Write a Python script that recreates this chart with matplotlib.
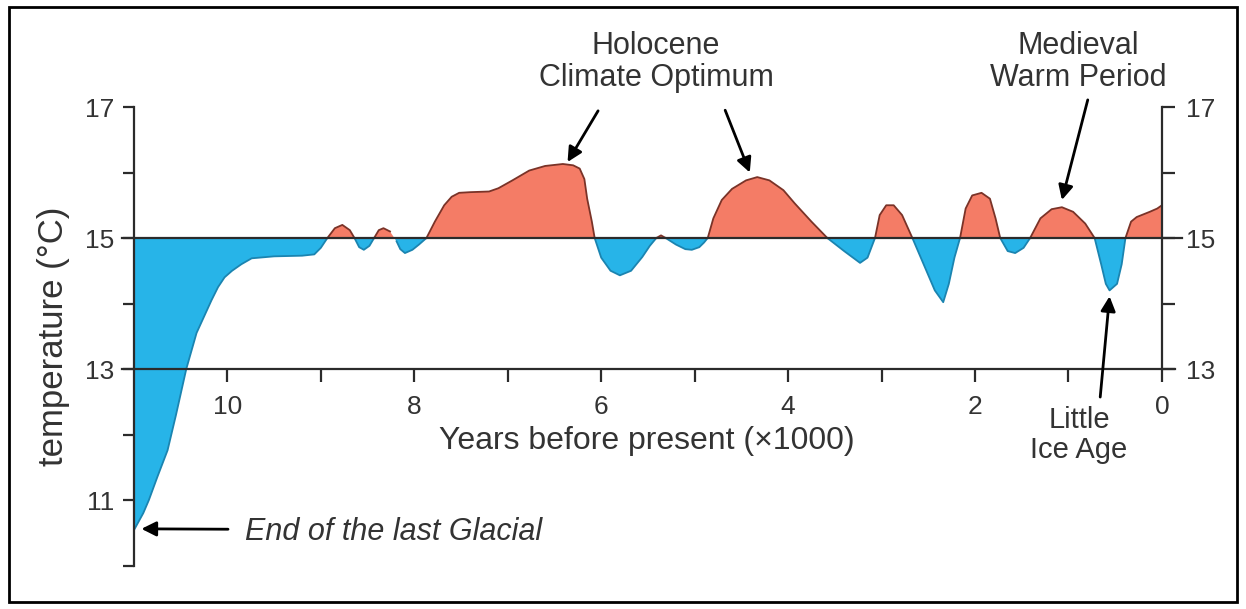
import matplotlib
matplotlib.use("Agg")
import matplotlib.pyplot as plt
import numpy as np
from matplotlib.patches import Rectangle

plt.rcParams['font.family'] = ['Liberation Sans', 'DejaVu Sans']

# years before present (x1000) and temperature (deg C)
years = [11.0, 10.9, 10.84, 10.75, 10.64, 10.55, 10.44, 10.33, 10.25, 10.17,
         10.1, 10.03, 9.95, 9.85, 9.74, 9.5, 9.2, 9.07, 9.0, 8.93,
         8.85, 8.77, 8.69, 8.64, 8.59, 8.54, 8.48, 8.43, 8.38, 8.33,
         8.26, 8.19, 8.15, 8.1, 8.02, 7.95, 7.87, 7.78, 7.68, 7.6, 7.52,
         7.4, 7.2, 7.1, 6.95, 6.77, 6.6, 6.41, 6.3, 6.23, 6.18, 6.15,
         6.1, 6.07, 6.0, 5.9, 5.8, 5.68, 5.56, 5.48, 5.41, 5.36,
         5.31, 5.2, 5.1, 5.03, 4.95, 4.9, 4.86, 4.8, 4.71, 4.6,
         4.45, 4.33, 4.2, 4.05, 3.93, 3.75, 3.58, 3.4, 3.23, 3.15,
         3.07, 3.02, 2.95, 2.87, 2.78, 2.67, 2.55, 2.43, 2.34, 2.28,
         2.22, 2.16, 2.1, 2.03, 1.93, 1.84, 1.78, 1.73, 1.65, 1.57,
         1.48, 1.41, 1.3, 1.18, 1.07, 0.95, 0.82, 0.72, 0.65, 0.6,
         0.56, 0.48, 0.43, 0.39, 0.33, 0.27, 0.2, 0.13, 0.05, 0.0]
temps = [10.54, 10.8, 11.0, 11.35, 11.76, 12.3, 13.0, 13.55, 13.8, 14.05,
         14.25, 14.4, 14.5, 14.6, 14.69, 14.72, 14.73, 14.75, 14.85, 15.0,
         15.15, 15.2, 15.12, 15.0, 14.86, 14.82, 14.88, 15.0, 15.12, 15.15,
         15.1, 14.95, 14.83, 14.77, 14.82, 14.9, 15.0, 15.25, 15.5, 15.63, 15.69,
         15.7, 15.71, 15.76, 15.88, 16.03, 16.1, 16.13, 16.11, 16.06, 15.9, 15.6,
         15.25, 15.0, 14.7, 14.5, 14.43, 14.5, 14.71, 14.88, 15.0, 15.04,
         15.0, 14.9, 14.83, 14.82, 14.86, 14.93, 15.0, 15.3, 15.58, 15.75,
         15.88, 15.93, 15.88, 15.73, 15.53, 15.25, 15.0, 14.8, 14.62, 14.7,
         15.0, 15.35, 15.5, 15.5, 15.35, 15.0, 14.6, 14.2, 14.02, 14.3,
         14.7, 15.0, 15.45, 15.65, 15.69, 15.6, 15.3, 15.0, 14.8, 14.77,
         14.85, 15.0, 15.3, 15.44, 15.47, 15.4, 15.22, 15.0, 14.6, 14.3,
         14.2, 14.3, 14.6, 15.0, 15.25, 15.32, 15.36, 15.4, 15.45, 15.5]

base = 15
x_ticks = [0, 1, 2, 3, 4, 5, 6, 7, 8, 9, 10]
x_labels = ['0', '', '2', '', '4', '', '6', '', '8', '', '10']
left_ticks = [10, 11, 12, 13, 14, 15, 16, 17]
left_labels = ['', '11', '', '13', '', '15', '', '17']
right_ticks = [13, 14, 15, 16, 17]
right_labels = ['13', '', '15', '', '17']

RED = '#f47c66'
BLUE = '#27b4e8'
AX = '#2b2b2b'
TXT = '#333333'

x = np.array(years)
y = np.array(temps)

fig = plt.figure(figsize=(12.46, 6.09), dpi=100)
ax = fig.add_axes([0.1075, 0.0714, 0.825, 0.7529])
ax.set_xlim(11.0, 0)
ax.set_ylim(10, 17)

ax.fill_between(x, y, base, where=y >= base, interpolate=True, color=RED, lw=0)
ax.fill_between(x, y, base, where=y <= base, interpolate=True, color=BLUE, lw=0)
ax.plot(x, np.ma.masked_where(y < base, y), color='#7a3328', lw=1.3)
ax.plot(x, np.ma.masked_where(y > base, y), color='#1b84b0', lw=1.3)

# 15 degree reference line, running a little past the right axis
ax.plot([11.13, -0.21], [base, base], color=AX, lw=1.6, clip_on=False, zorder=3)

for s in ['top', 'right']:
    ax.spines[s].set_visible(False)
ax.spines['left'].set_bounds(10, 17)
ax.spines['bottom'].set_position(('data', 13))
ax.spines['bottom'].set_bounds(11.13, -0.14)
for s in ['left', 'bottom']:
    ax.spines[s].set_color(AX)
    ax.spines[s].set_linewidth(1.6)

ax.set_xticks(x_ticks)
ax.set_xticklabels(x_labels)
ax.set_yticks(left_ticks)
ax.set_yticklabels(left_labels)
ax.tick_params(axis='x', direction='out', length=9, width=1.6, color=AX,
               labelsize=19, pad=10, labelcolor=TXT)
ax.tick_params(axis='y', direction='out', length=8, width=1.6, color=AX,
               labelsize=19, pad=6, labelcolor=TXT)

ax2 = ax.twinx()
ax2.set_ylim(10, 17)
for s in ['top', 'left', 'bottom']:
    ax2.spines[s].set_visible(False)
ax2.spines['right'].set_bounds(13, 17)
ax2.spines['right'].set_color(AX)
ax2.spines['right'].set_linewidth(1.6)
ax2.set_yticks(right_ticks)
ax2.set_yticklabels(right_labels)
ax2.tick_params(axis='y', direction='out', length=9, width=1.6, color=AX,
                labelsize=19, pad=8, labelcolor=TXT)

ax.set_xlabel('Years before present (\u00d71000)', fontsize=23, color=TXT)
ax.xaxis.set_label_coords(0.4985, 0.305)
ax.set_ylabel('temperature (\u00b0C)', fontsize=25, color=TXT)
ax.yaxis.set_label_coords(-0.062, 0.5)

arrow = dict(arrowstyle='-|>', color='k', lw=2, mutation_scale=22, shrinkA=0, shrinkB=0)
ax.annotate('', xy=(6.36, 16.16), xytext=(0.480, 0.818), textcoords='figure fraction', arrowprops=arrow)
ax.annotate('', xy=(4.41, 16.0), xytext=(0.582, 0.819), textcoords='figure fraction', arrowprops=arrow)
ax.annotate('', xy=(1.07, 15.58), xytext=(0.873, 0.836), textcoords='figure fraction', arrowprops=arrow)
ax.annotate('', xy=(0.56, 14.11), xytext=(0.883, 0.348), textcoords='figure fraction', arrowprops=arrow)
ax.annotate('', xy=(10.92, 10.56), xytext=(0.183, 0.131), textcoords='figure fraction', arrowprops=arrow)

fig.text(0.5265, 0.898, 'Holocene\nClimate Optimum', ha='center', va='center',
         fontsize=22, color=TXT, linespacing=1.1)
fig.text(0.865, 0.898, 'Medieval\nWarm Period', ha='center', va='center',
         fontsize=22, color=TXT, linespacing=1.1)
fig.text(0.866, 0.286, 'Little\nIce Age', ha='center', va='center',
         fontsize=21, color=TXT, linespacing=1.1)
fig.text(0.197, 0.126, 'End of the last Glacial', ha='left', va='center',
         fontsize=22, style='italic', color=TXT)

fig.patches.append(Rectangle((0.007, 0.012), 0.986, 0.976, transform=fig.transFigure,
                             fill=False, ec='k', lw=2))

fig.savefig('out.png', dpi=100)
